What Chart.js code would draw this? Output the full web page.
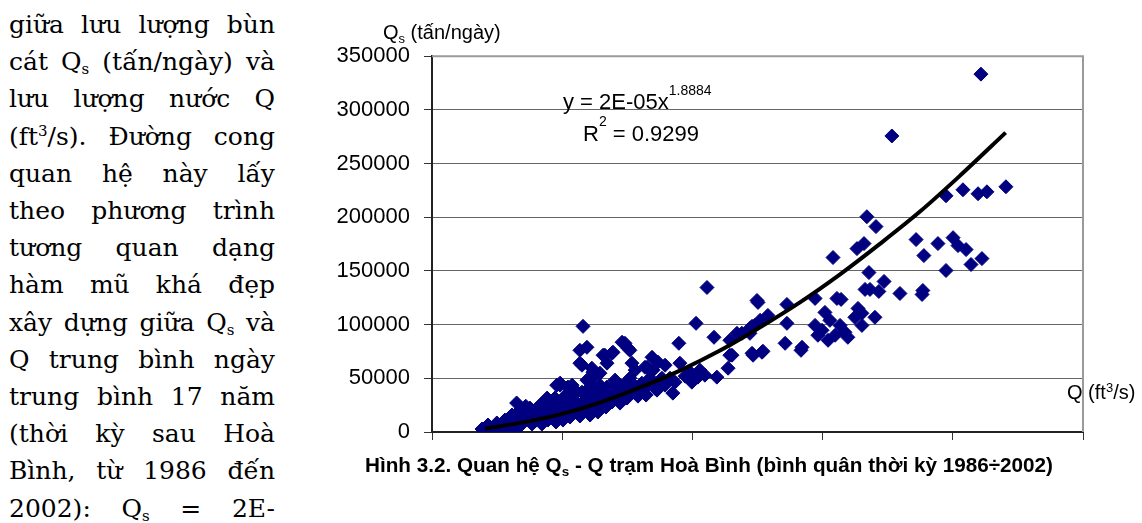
<!DOCTYPE html>
<html>
<head>
<meta charset="utf-8">
<script src="https://cdn.jsdelivr.net/npm/chart.js@4"></script>
<style>
  html, body { margin: 0; padding: 0; background: #fff; }
  body { width: 1142px; height: 523px; position: relative; overflow: hidden; }
  .txt { position: absolute; white-space: nowrap; color: #000; }
  #para {
    position: absolute; left: 9px; top: 6px; width: 266px;
    font-family: 'DejaVu Serif', 'Liberation Serif', serif;
    font-size: 25px; line-height: 37.2px; color: #000;
  }
  #para div { text-align: justify; text-align-last: justify; }
  #para sub { font-size: 60%; vertical-align: -0.25em; line-height: 0; }
  #para sup { font-size: 60%; vertical-align: 0.6em; line-height: 0; }
  .sans { font-family: 'Liberation Sans', Arial, sans-serif; line-height: 1; }
  .sans sub { font-size: 65%; vertical-align: -0.3em; line-height: 0; }
  .sans sup { font-size: 65%; vertical-align: 0.55em; line-height: 0; }
  #chartBox { position: absolute; left: 330px; top: 29px; width: 780px; height: 431px; }
  #caption { font-weight: bold; font-size: 21px; transform-origin: 0 0; }
</style>
</head>
<body>

<div id="para">
  <div>giữa lưu lượng bùn</div>
  <div>cát Q<sub>s</sub> (tấn/ngày) và</div>
  <div>lưu lượng nước Q</div>
  <div>(ft<sup>3</sup>/s). Đường cong</div>
  <div>quan hệ này lấy</div>
  <div>theo phương trình</div>
  <div>tương quan dạng</div>
  <div>hàm mũ khá đẹp</div>
  <div>xây dựng giữa Q<sub>s</sub> và</div>
  <div>Q trung bình ngày</div>
  <div>trung bình 17 năm</div>
  <div>(thời kỳ sau Hoà</div>
  <div>Bình, từ 1986 đến</div>
  <div>2002): Q<sub>s</sub> = 2E-</div>
</div>

<div id="chartBox"><canvas id="c" width="780" height="431"></canvas></div>

<div class="txt sans" style="left:383px;top:22px;font-size:20px">Q<sub>s</sub> (tấn/ngày)</div>
<div class="txt sans" style="left:1067px;top:382px;font-size:20px">Q (ft<sup>3</sup>/s)</div>
<div class="txt sans" style="left:563px;top:83px;font-size:22px">y = 2E-05x<span style="font-size:14px;vertical-align:14px">1.8884</span></div>
<div class="txt sans" style="left:583px;top:114px;font-size:22px">R<span style="font-size:14px;vertical-align:15px">2</span> = 0.9299</div>
<div id="caption" class="txt sans" style="left:365px;top:454px">Hình 3.2. Quan hệ Q<sub>s</sub> - Q trạm Hoà Bình (bình quân thời kỳ 1986÷2002)</div>

<script>
// ── data ────────────────────────────────────────────────────────────
// Q (ft3/s) and Qs (tấn/ngày) of the daily observations
const obsQ = [
  210800, 176600, 197400, 203900, 209700, 213100, 220400, 167000, 170500, 154000,
  163200, 165900, 185900, 188900, 194300, 200100, 202000, 205100, 207000, 211200,
  197400, 167800, 173600, 166300, 168200, 171600, 179700, 188200, 188500, 157100,
  147100, 136300, 136300, 147100, 149800, 152800, 154800, 158600, 152100, 156700,
  148200, 159700, 150900, 163600, 165100, 162400, 165100, 170100, 135600, 142100,
  122900, 126700, 141700, 124000, 129000, 119000, 105600, 124800, 155500, 101400,
  108300, 128600, 126000, 122900, 122100, 117100, 114400, 94800, 123300, 127100,
  115200, 113700, 95200, 109400, 104800, 102100, 99800, 73000, 75300, 69500,
  65700, 76800, 78000, 84500, 86800, 89500, 81800, 84900, 86400, 92500,
  68400, 58000, 56800, 59500, 66400, 57600, 49200, 52200, 61800, 74100,
  76000, 69100, 56800, 61400, 67200, 82600, 53800, 55700, 59500, 61800,
  64500, 60700, 67200, 69500, 73000, 76000, 79900, 44200, 46500, 41500,
  47900, 114400, 122100, 125200,
  19200, 20700, 22300, 23000, 24200, 25300, 26100, 27300, 28400, 29600,
  30700, 31900, 33000, 33800, 34600, 35300, 36500, 37600, 38400, 39600,
  40300, 41500, 42200, 43400, 44500, 45300, 46500, 47600, 48400, 49200,
  50300, 51100, 51800, 53000, 53800, 54900, 56100, 56800, 57600, 58800,
  59900, 60700, 61800, 63000, 63700, 64500, 65700, 66800, 68000, 69100,
  70300, 71400, 72200, 73700, 74900, 76000, 77600, 79100, 80600, 82200,
  83700, 85600, 87600, 89500, 91400, 93300, 97200, 99100, 102900, 33800,
  30700, 37600, 43400, 47200, 49200, 32500, 36000,
  21500, 24900, 28000, 30000, 32300, 36100, 38800, 40700, 43000, 46100,
  48000, 49900, 51500, 54500, 55700, 58000, 59500, 61400, 62600, 65300,
  66400, 68700, 70700, 73000, 75300, 77200, 81800, 84500, 88300, 60700,
  54900, 52200,
];
const obsQs = [
  333300, 275700, 220000, 225600, 221900, 223700, 228400, 200500, 191300, 162500,
  170800, 175500, 179200, 164300, 175500, 181000, 173600, 169900, 156000, 161500,
  150400, 148500, 140200, 132800, 132800, 130900, 129000, 128100, 131800, 123500,
  124400, 118800, 101200, 99300, 94700, 104000, 90100, 92800, 85400, 99300,
  90100, 88200, 111400, 115100, 110500, 106800, 99300, 106800, 82600, 78900,
  73300, 74300, 76100, 99300, 108600, 91900, 134600, 122500, 124400, 101200,
  88200, 106800, 104000, 98400, 96600, 91900, 85400, 82600, 71500, 75200,
  71500, 59400, 64100, 51100, 52900, 51100, 46400, 83600, 78000, 74300,
  71500, 64100, 57600, 69600, 65000, 62200, 60300, 57600, 39000, 36200,
  39000, 98400, 76100, 78900, 71500, 62200, 43600, 41800, 55700, 82600,
  76100, 73300, 64100, 59400, 64100, 60300, 43600, 37100, 48300, 51100,
  54800, 41800, 41800, 39000, 40800, 36200, 36200, 31600, 26900, 25100,
  43600, 71500, 91900, 120700,
  2800, 1900, 3700, 900, 4600, 1900, 5600, 2800, 6500, 3700,
  7400, 4600, 9300, 5600, 12100, 17600, 20400, 14900, 7400, 10200,
  18600, 13000, 7400, 15800, 11100, 20400, 13000, 9300, 25100, 16700,
  11100, 29700, 20400, 13900, 33400, 25100, 17600, 14900, 37100, 29700,
  20400, 15800, 34400, 25100, 18600, 43600, 31600, 23200, 37100, 27900,
  48300, 34400, 26900, 43600, 31600, 50100, 39000, 33400, 45500, 34400,
  50100, 40800, 48300, 43600, 50100, 46400, 52000, 55700, 57600, 20400,
  15800, 22300, 25100, 31600, 45500, 27000, 24000,
  6500, 8400, 11100, 13900, 16700, 13000, 15800, 22300, 19500, 26000,
  18600, 25100, 34400, 29700, 22300, 25100, 34400, 27900, 40800, 37100,
  29700, 33400, 40800, 36200, 40800, 44600, 40800, 45500, 50100, 48300,
  39000, 31600,
];

// power trend line y = 2E-05x^1.8884
const trendQ  = [20350, 33800, 49200, 64500, 79900, 95200, 110600, 126000, 141300, 156700, 172000, 187400, 202800, 220300];
const trendQs = [3300, 8500, 16400, 27400, 41500, 57200, 75800, 97500, 120700, 146800, 175200, 205300, 238800, 278800];

const Y_TICKS = [0, 50000, 100000, 150000, 200000, 250000, 300000, 350000];
const X_MAX = 250000;
const X_STEP = 50000;

// ── plot area frame (grey top + right edge, like Excel) ─────────────
const plotFrame = {
  id: "plotFrame",
  beforeDatasetsDraw(chart) {
    const { ctx, chartArea: a } = chart;
    ctx.save();
    ctx.strokeStyle = "#9a9a9a";
    ctx.lineWidth = 2;
    ctx.beginPath();
    ctx.moveTo(a.left, a.top);
    ctx.lineTo(a.right, a.top);
    ctx.lineTo(a.right, a.bottom);
    ctx.stroke();
    ctx.restore();
  },
};

Chart.defaults.font.family = "'Liberation Sans', Arial, sans-serif";
Chart.defaults.color = "#000";

new Chart(document.getElementById("c"), {
  type: "scatter",
  data: {
    datasets: [
      {
        type: "line",
        label: "trend",
        data: trendQ.map((q, i) => ({ x: q, y: trendQs[i] })),
        borderColor: "#000",
        borderWidth: 4,
        pointRadius: 0,
        fill: false,
        showLine: true,
        cubicInterpolationMode: "monotone",
      },
      {
        label: "Qs",
        data: obsQ.map((q, i) => ({ x: q, y: obsQs[i] })),
        pointStyle: "rectRot",
        pointRadius: 7,
        backgroundColor: "#000080",
        borderColor: "#000080",
        borderWidth: 1,
      },
    ],
  },
  options: {
    responsive: false,
    animation: false,
    devicePixelRatio: 1,
    layout: { padding: { left: 0, right: 27, top: 4, bottom: 0 } },
    plugins: { legend: { display: false }, tooltip: { enabled: false } },
    scales: {
      x: {
        type: "linear",
        min: 0,
        max: X_MAX,
        ticks: { display: false, stepSize: X_STEP },
        grid: { drawOnChartArea: false, drawTicks: true, tickLength: 8, color: "#333" },
        border: { display: true, color: "#222", width: 2 },
        afterFit: (s) => { s.height = 28; },
      },
      y: {
        min: 0,
        max: 350000,
        afterBuildTicks: (s) => { s.ticks = Y_TICKS.map((v) => ({ value: v })); },
        ticks: {
          padding: 14,
          color: "#000",
          font: { size: 22 },
          callback: (v) => String(v),
        },
        grid: { color: "#666", lineWidth: 1, tickLength: 8, tickColor: "#333" },
        border: { display: true, color: "#222", width: 2 },
        afterFit: (s) => { s.width = 102; },
      },
    },
  },
  plugins: [plotFrame],
});

// caption squeezed to the narrow bold face width of the original
const cap = document.getElementById("caption");
cap.style.transform = `scaleX(${688 / cap.offsetWidth})`;
</script>
</body>
</html>
